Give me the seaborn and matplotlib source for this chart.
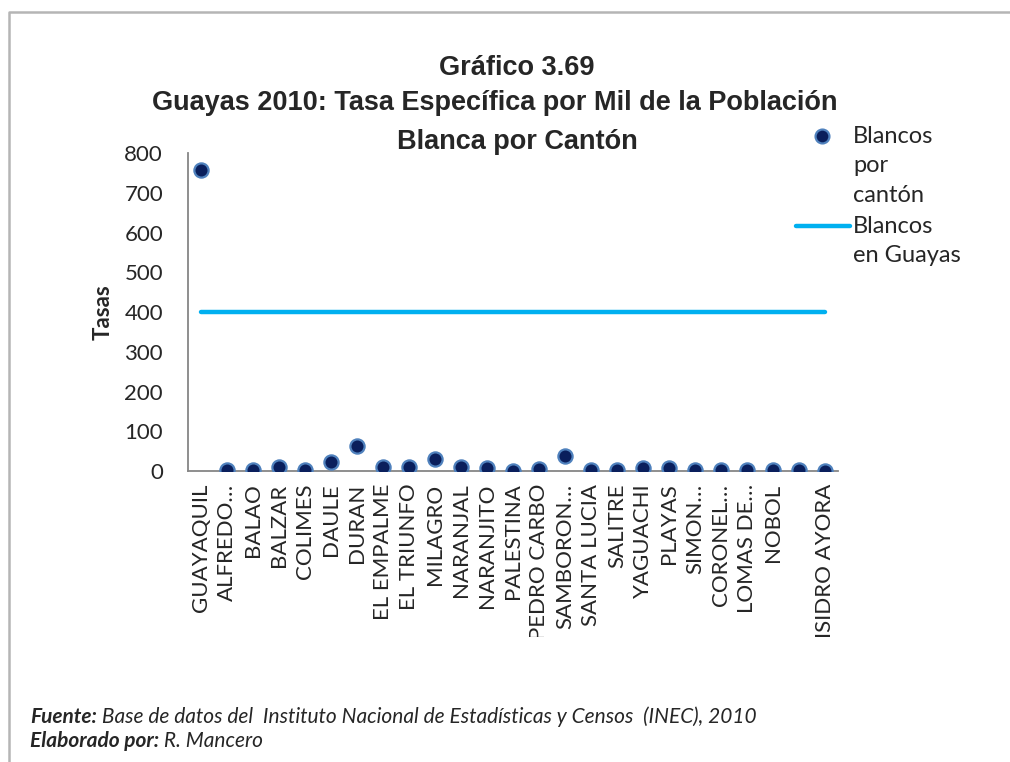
import numpy as np
import pandas as pd
import matplotlib
matplotlib.use("Agg")
import matplotlib.pyplot as plt
import matplotlib.transforms as mtransforms
from matplotlib.lines import Line2D
import seaborn as sns

# data
cantones = ["GUAYAQUIL", "ALFREDO BAQUERIZO MORENO", "BALAO", "BALZAR", "COLIMES",
            "DAULE", "DURAN", "EL EMPALME", "EL TRIUNFO", "MILAGRO", "NARANJAL",
            "NARANJITO", "PALESTINA", "PEDRO CARBO", "SAMBORONDON", "SANTA LUCIA",
            "SALITRE", "YAGUACHI", "PLAYAS", "SIMON BOLIVAR",
            "CORONEL MARCELINO MARIDUEÑA", "LOMAS DE SARGENTILLO", "NOBOL",
            "GENERAL ANTONIO ELIZALDE", "ISIDRO AYORA"]
etiquetas = ["GUAYAQUIL", "ALFREDO…", "BALAO", "BALZAR", "COLIMES", "DAULE",
             "DURAN", "EL EMPALME", "EL TRIUNFO", "MILAGRO", "NARANJAL",
             "NARANJITO", "PALESTINA", "PEDRO CARBO", "SAMBORON…", "SANTA LUCIA",
             "SALITRE", "YAGUACHI", "PLAYAS", "SIMON…", "CORONEL…", "LOMAS DE…",
             "NOBOL", "", "ISIDRO AYORA"]
tasa_canton = [757, 2, 2, 9, 2, 23, 64, 11, 10, 30, 11, 8, 1, 4, 38, 2, 2, 7, 7,
               2, 2, 2, 3, 3, 1]
tasa_guayas = [400, 400, 400, 400, 400, 400, 400, 400, 400, 400, 400, 400, 400,
               400, 400, 400, 400, 400, 400, 400, 400, 400, 400, 400, 400]
yticks = [0, 100, 200, 300, 400, 500, 600, 700, 800]

df = pd.DataFrame({"canton": cantones, "tasa": tasa_canton, "guayas": tasa_guayas})

sns.set_theme(style="white")
plt.rcParams['font.family'] = ['Lato', 'DejaVu Sans']

W, H = 1010, 762
fig = plt.figure(figsize=(W / 100, H / 100), dpi=100)
ax = fig.add_axes([188 / W, 1 - 471 / H, 650 / W, 318 / H])

sns.lineplot(data=df, x="canton", y="guayas", ax=ax, color="#00B0F0", lw=3.2,
             sort=False, legend=False)
sns.scatterplot(data=df, x="canton", y="tasa", ax=ax, s=105, color="#0A1F5C",
                edgecolor="#4F81BD", linewidth=1.6, zorder=3, legend=False)

grey = "#868686"
ax.set_xlim(-0.5, len(cantones) - 0.5)
ax.set_ylim(0, 800)
ax.set_yticks(yticks)
ax.set_yticklabels([str(v) for v in yticks], fontsize=16)
ax.set_xticks(range(len(cantones)))
ax.set_xticklabels(etiquetas, rotation=90, fontsize=16)
ax.set_xticks(np.arange(-0.5, len(cantones), 1), minor=True)
ax.tick_params(axis="x", which="major", length=0, pad=9)
ax.tick_params(axis="x", which="minor", length=6, width=1.3, color=grey, direction="out")
ax.tick_params(axis="y", length=6, width=1.3, color=grey, pad=12, direction="out")
for side in ["top", "right"]:
    ax.spines[side].set_visible(False)
for side in ["left", "bottom"]:
    ax.spines[side].set_color(grey)
    ax.spines[side].set_linewidth(1.3)
ax.set_xlabel("")
ax.set_ylabel("Tasas", fontsize=16, fontweight="bold", labelpad=8)

# Excel clips the category labels at the bottom of the plot area
clip = mtransforms.TransformedBbox(mtransforms.Bbox.from_extents(0, 125 / H, 1, 1),
                                   fig.transFigure)
for t in ax.get_xticklabels():
    t.set_clip_box(clip)
    t.set_clip_on(True)

# titles
tfont = dict(family="Liberation Sans", fontweight="bold", fontsize=19.5, ha="center",
             va="center")
fig.text(517 / W, 1 - 68 / H, "Gráfico 3.69", **tfont)
fig.text(495 / W, 1 - 103 / H, "Guayas 2010: Tasa Específica por Mil de la Población", **tfont)
fig.text(517 / W, 1 - 142 / H, "Blanca por Cantón", **tfont)

# legend
fig.add_artist(Line2D([822 / W], [1 - 136 / H], marker="o", markersize=10,
                      markerfacecolor="#0A1F5C", markeredgecolor="#4F81BD",
                      markeredgewidth=1.6, transform=fig.transFigure))
fig.add_artist(Line2D([796 / W, 850 / W], [1 - 226 / H, 1 - 226 / H], color="#00B0F0",
                      lw=3.2, solid_capstyle="round", transform=fig.transFigure))
fig.text(853 / W, 1 - 126 / H, "Blancos\npor\ncantón", fontsize=17, va="top",
         ha="left", linespacing=1.5, transform=fig.transFigure)
fig.text(853 / W, 1 - 216 / H, "Blancos\nen Guayas", fontsize=17, va="top",
         ha="left", linespacing=1.5, transform=fig.transFigure)

# outer border of the chart object (only top and left edges are in view)
fig.add_artist(Line2D([9 / W, 9 / W, 1.0], [0.0, 1 - 12 / H, 1 - 12 / H],
                      color="#b5b5b5", lw=1.8, transform=fig.transFigure))

# source notes
fig.canvas.draw()
renderer = fig.canvas.get_renderer()
for y, bold, rest in [(717, "Fuente:", " Base de datos del  Instituto Nacional de Estadísticas y Censos  (INEC), 2010"),
                      (741, "Elaborado por:", " R. Mancero")]:
    b = fig.text(30 / W, 1 - y / H, bold, fontsize=15, style="italic",
                 fontweight="bold", va="center")
    ext = b.get_window_extent(renderer)
    fig.text(ext.x1 / W, 1 - y / H, rest, fontsize=15, style="italic", va="center")

fig.savefig("out.png", dpi=100)
